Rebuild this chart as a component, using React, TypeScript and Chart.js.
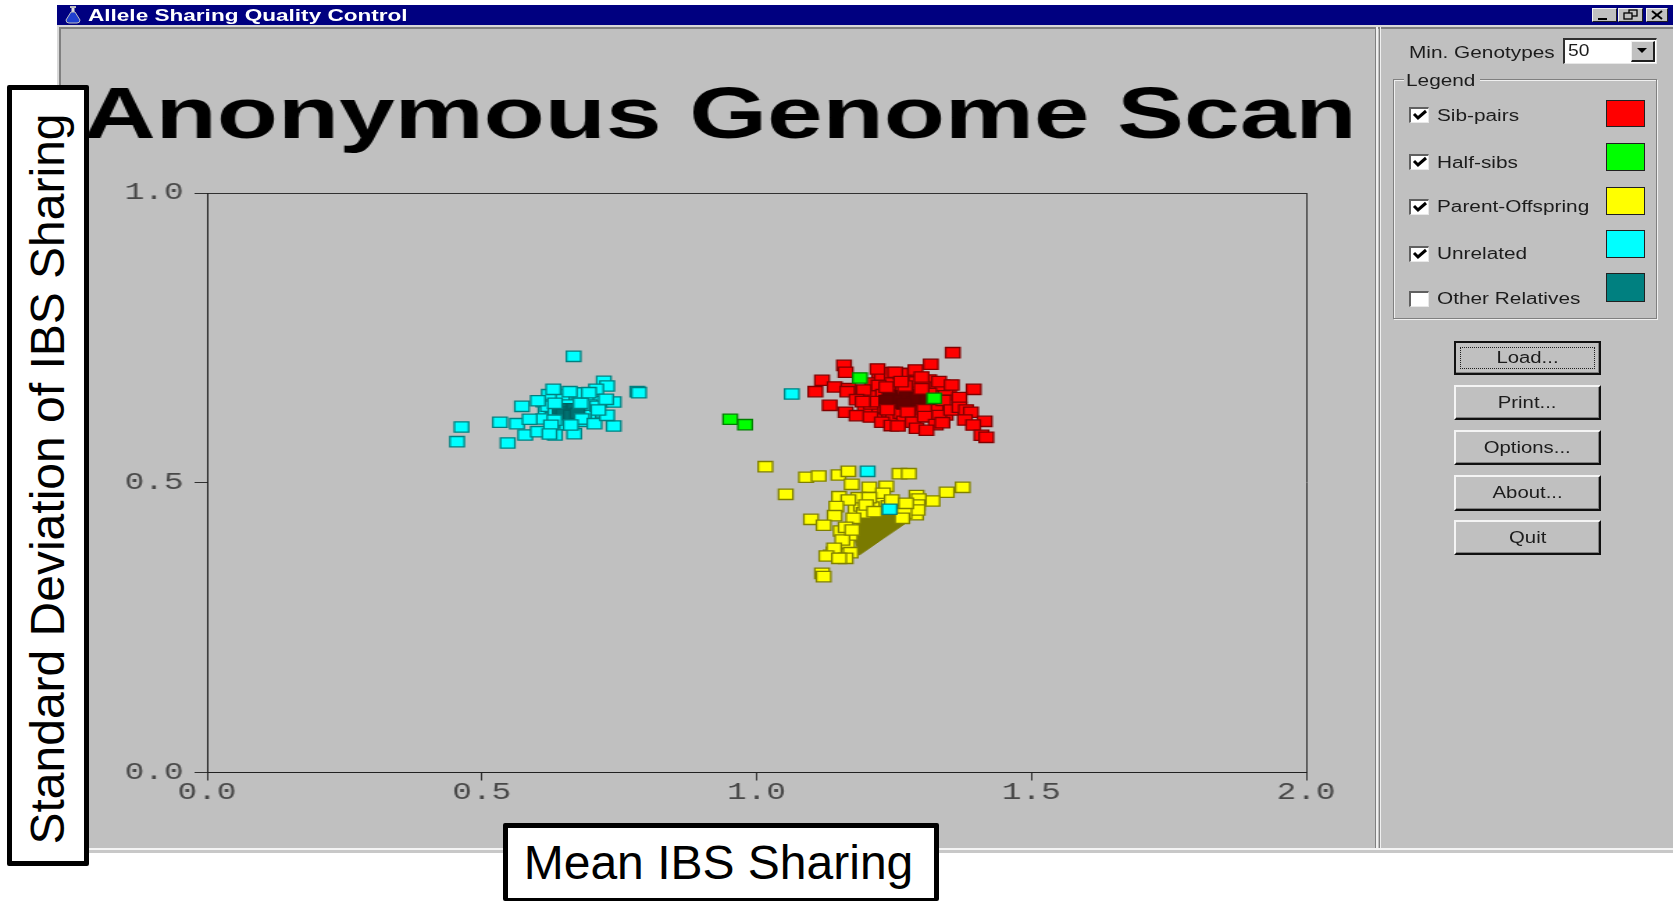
import React, { useEffect, useRef } from "react";
import { Chart, registerables } from "chart.js";

Chart.register(...registerables);

const chartTitle = "Anonymous Genome Scan";
const windowTitle = "Allele Sharing Quality Control";
const xAxisTitle = "Mean IBS Sharing";
const yAxisTitle = "Standard Deviation of IBS Sharing";
const legendLabels = ["Sib-pairs", "Half-sibs", "Parent-Offspring", "Unrelated", "Other Relatives"];
const legendChecked = [true, true, true, true, false];
const legendColors = ["#ff0000", "#00ff00", "#ffff00", "#00ffff", "#008080"];
const buttonLabels = ["Load...", "Print...", "Options...", "About...", "Quit"];

type P = [number, number];

const sibPairs: P[] = [
  [1.236,.665],[1.300,.662],[1.238,.626],[1.305,.626],[1.270,.667],[1.275,.622],
  [1.357,.7245],[1.317,.7044],[1.159,.7026],[1.162,.6906],[1.220,.6963],[1.252,.6906],[1.289,.6946],[1.300,.6825],
  [1.119,.6768],[1.107,.6572],[1.142,.6653],[1.167,.6624],[1.165,.6572],[1.195,.6601],[1.263,.6745],[1.332,.6745],
  [1.355,.6687],[1.395,.6612],[1.369,.6469],[1.182,.6434],[1.193,.6400],[1.133,.6336],[1.162,.6216],[1.182,.6158],
  [1.207,.6135],[1.228,.6043],[1.245,.5986],[1.257,.5980],[1.284,.6043],[1.306,.6141],[1.326,.6003],[1.291,.5940],
  [1.309,.5905],[1.338,.6037],[1.354,.6256],[1.369,.6302],[1.381,.6256],[1.390,.6216],[1.379,.6083],[1.415,.6060],
  [1.394,.5997],[1.409,.5819],[1.418,.5784],
];
const sibPairsCore: P[] = [
  [1.242,.650],[1.258,.638],[1.272,.652],[1.286,.640],[1.300,.650],[1.250,.642],[1.292,.646],[1.268,.636],
  [1.310,.644],[1.236,.642],
];
const sibPairsMiddle: P[] = [
  [1.223,.6831],[1.278,.6888],[1.314,.6773],[1.232,.6170],[1.281,.6227],[1.344,.6170],[1.350,.6515],
  [1.205,.648],[1.214,.662],[1.226,.638],[1.236,.672],[1.241,.622],[1.252,.664],[1.258,.628],[1.268,.676],
  [1.272,.612],[1.283,.668],[1.293,.634],[1.298,.656],[1.305,.622],[1.318,.664],[1.322,.636],[1.330,.650],
  [1.336,.628],[1.344,.660],[1.218,.628],[1.197,.627],[1.210,.672],[1.228,.684],[1.246,.678],[1.262,.688],[1.276,.660],
  [1.200,.655],[1.208,.636],[1.216,.650],[1.222,.668],[1.230,.652],[1.234,.630],[1.244,.660],[1.248,.616],[1.254,.652],
  [1.262,.620],[1.266,.662],[1.278,.624],[1.286,.612],[1.290,.674],[1.302,.666],[1.306,.634],[1.312,.614],[1.326,.626],
  [1.332,.616],[1.338,.668],[1.340,.642],[1.220,.640],[1.268,.606],[1.246,.690],[1.296,.616],[1.314,.654],
];
const halfSibs: P[] = [[1.188,.6808],[1.323,.6457],[.952,.6095],[.979,.6002]];
const unrelated: P[] = [
  [.633,.637],[.680,.637],[.632,.608],[.682,.610],
  [1.064,.6532],[1.202,.5197],[1.242,.4542],
  [.667,.7181],[.722,.6750],[.728,.6669],[.783,.6572],[.786,.6555],[.630,.6612],[.660,.6572],[.708,.6612],[.695,.6555],
  [.602,.6416],[.573,.6319],[.740,.6393],[.726,.6439],[.533,.6043],[.564,.6020],[.463,.5962],[.455,.5709],[.547,.5686],
  [.587,.6095],[.579,.5824],[.602,.5882],[.626,.5991],[.633,.5824],[.623,.5841],[.668,.5847],[.662,.5997],[.705,.6020],
  [.740,.5979],[.728,.6163],[.712,.6255],
];
const unrelatedCore: P[] = [[.642,.6275],[.655,.622],[.668,.6275],[.648,.618],[.662,.616],[.674,.620]];
const unrelatedMiddle: P[] = [
  [.612,.640],[.628,.648],[.640,.652],[.652,.640],[.664,.648],[.676,.642],[.688,.650],[.700,.640],[.690,.628],[.704,.622],
  [.616,.622],[.628,.612],[.612,.610],[.640,.605],[.655,.600],[.680,.606],[.694,.610],[.716,.640],[.634,.636],[.680,.655],
  [.620,.632],[.646,.644],[.658,.634],[.682,.632],[.696,.634],[.634,.620],[.686,.616],[.670,.610],[.710,.632],[.622,.652],
];
const parentOffspring: P[] = [
  [1.135,.375],[1.140,.380],[1.160,.385],[1.165,.395],[1.170,.410],[1.180,.455],[1.190,.460],[1.225,.465],[1.240,.460],
  [1.280,.463],[1.285,.455],[1.270,.455],[1.290,.445],[1.210,.458],[1.195,.448],[1.200,.470],
  [1.016,.5278],[1.090,.5094],[1.113,.5117],[1.149,.5134],[1.167,.5197],[1.260,.5157],[1.277,.5157],[1.053,.4800],
  [1.375,.4921],[1.346,.4835],[1.320,.4685],[1.173,.4973],[1.205,.4921],[1.236,.4938],[1.150,.4760],[1.230,.4818],
  [1.185,.4743],[1.205,.4743],[1.167,.4703],[1.145,.4588],[1.246,.4703],[1.291,.4780],[1.295,.4720],[1.293,.4616],[1.293,.4530],
  [1.142,.4432],[1.099,.4369],[1.122,.4266],[1.176,.4386],[1.153,.4168],[1.162,.4231],[1.156,.4013],[1.141,.3869],
  [1.171,.3794],[1.127,.3737],[1.162,.3696],[1.150,.3696],[1.119,.3437],[1.122,.3380],[1.199,.4616],[1.214,.4501],
  [1.269,.4473],[1.265,.4386],[1.272,.4645],[1.174,.4185],
];
const parentOffspringDense: P[] = [
  [1.187,.3754],[1.284,.4386],[1.270,.4520],[1.215,.4560],[1.187,.4440],[1.178,.4070],[1.187,.3754],
];
const otherRelatives: P[] = [];

const xTicksMax = 2;
const yTicksMax = 1;

const FULL_W = 1673;
const LOGICAL_W = 1204;
const STRETCH = FULL_W / LOGICAL_W;
const GREY = "#c0c0c0";

function pts(a: P[]) {
  return a.map(([x, y]) => ({ x, y }));
}
function series(label: string, data: P[], fill: string, border: string) {
  return {
    label,
    data: pts(data),
    backgroundColor: fill,
    borderColor: border,
    pointBackgroundColor: fill,
    pointBorderColor: border,
    pointBorderWidth: 1.3,
    pointStyle: "rect",
    pointRadius: 7.3,
    showLine: false,
  };
}

function ScatterChart() {
  const ref = useRef<HTMLCanvasElement>(null);
  useEffect(() => {
    const frame = (c: any, max: number) =>
      c.tick && c.tick.value === max ? "#303030" : "rgba(0,0,0,0)";
    const tickFont = { family: "'Liberation Mono'", size: 23.5 };
    const chart = new Chart(ref.current!, {
      type: "scatter",
      data: {
        datasets: [
          series("Half-sibs", halfSibs, "#00ff00", "#008000"),
          series("Unrelated", unrelated, "#00ffff", "#008080"),
          series("Unrelated (dense)", unrelatedCore, "#007070", "#006060"),
          series("Unrelated (middle)", unrelatedMiddle, "#00ffff", "#008080"),
          series("Sib-pairs", sibPairs, "#ff0000", "#800000"),
          series("Sib-pairs (dense)", sibPairsCore, "#640000", "#600000"),
          series("Sib-pairs (middle)", sibPairsMiddle, "#ff0000", "#800000"),
          series("Parent-Offspring", parentOffspring, "#ffff00", "#808000"),
          {
            label: "Parent-Offspring (dense)",
            data: pts(parentOffspringDense),
            showLine: true,
            fill: "shape",
            backgroundColor: "#7a7a00",
            borderColor: "#7a7a00",
            borderWidth: 1,
            pointRadius: 0,
            tension: 0,
          },
          series("Other Relatives", otherRelatives, "#008080", "#004040"),
        ] as any,
      },
      options: {
        animation: false,
        responsive: false,
        layout: { padding: { left: 60, right: 0, top: 0, bottom: 88.5 } },
        plugins: {
          legend: { display: false },
          tooltip: { enabled: false },
          title: {
            display: true,
            text: chartTitle,
            align: "start",
            color: "#000000",
            font: { family: "'Liberation Sans'", size: 72, weight: "bold", lineHeight: 1.2 },
            padding: { top: 74.8, bottom: 31.8 },
          },
        },
        scales: {
          x: {
            type: "linear",
            min: 0,
            max: xTicksMax,
            afterFit: (s: any) => { s.height = 40; },
            border: { color: "#202020", width: 1 },
            grid: {
              color: (c: any) => frame(c, xTicksMax),
              tickColor: "#303030",
              tickLength: 8,
              drawTicks: true,
            },
            ticks: {
              stepSize: 0.5,
              color: "#484848",
              font: tickFont,
              padding: -2,
              maxRotation: 0,
              callback: (v: any) => Number(v).toFixed(1),
            },
          },
          y: {
            type: "linear",
            min: 0,
            max: yTicksMax,
            afterFit: (s: any) => { s.width = 89; },
            border: { color: "#202020", width: 1 },
            grid: {
              color: (c: any) => frame(c, yTicksMax),
              tickColor: "#303030",
              tickLength: 9,
              drawTicks: true,
            },
            ticks: {
              stepSize: 0.5,
              color: "#484848",
              font: tickFont,
              padding: 8,
              callback: (v: any) => Number(v).toFixed(1),
            },
          },
          controlsGutter: {
            type: "linear",
            position: "right",
            min: 0,
            max: yTicksMax,
            afterFit: (s: any) => { s.width = 264; },
            border: { display: false },
            grid: { display: false, drawTicks: false },
            ticks: { display: false },
          },
        },
      } as any,
    });
    return () => chart.destroy();
  }, []);
  return (
    <canvas
      ref={ref}
      width={LOGICAL_W}
      height={901}
      style={{
        position: "absolute",
        left: 0,
        top: 0,
        transform: `scaleX(${STRETCH})`,
        transformOrigin: "0 0",
      }}
    />
  );
}

const box = (x: number, y: number, x2: number, y2: number): React.CSSProperties => ({
  position: "absolute",
  left: x,
  top: y,
  width: x2 - x,
  height: y2 - y,
  boxSizing: "border-box",
});

function Label(props: { x: number; y: number; text: string; size?: number; sx?: number; bold?: boolean; color?: string; bg?: string }) {
  const { x, y, text, size = 16, sx = 1.3, bold = false, color = "#1c1c1c" } = props;
  return (
    <span
      style={{
        position: "absolute",
        left: x,
        top: y,
        fontFamily: "'Liberation Sans'",
        fontSize: size,
        fontWeight: bold ? "bold" : "normal",
        color,
        lineHeight: 1,
        whiteSpace: "nowrap",
        transform: `translateY(-50%) scaleX(${sx})`,
        transformOrigin: "0 50%",
        filter: "blur(0.35px)",
      }}
    >
      {text}
    </span>
  );
}

function CheckBox({ y, checked }: { y: number; checked: boolean }) {
  return (
    <div
      style={{
        ...box(1409, y, 1429, y + 16),
        background: "#fff",
        borderTop: "2px solid #606060",
        borderLeft: "2px solid #606060",
        borderRight: "1px solid #e8e8e8",
        borderBottom: "1px solid #e8e8e8",
      }}
    >
      {checked && (
        <svg width={17} height={13} style={{ position: "absolute", left: 0, top: 0 }}>
          <polyline points="3,5 7,9 15,2" fill="none" stroke="#000" strokeWidth={3} />
        </svg>
      )}
    </div>
  );
}

const legendCheckY = [107, 154, 199, 246, 291];
const legendTextY = [116, 163, 207, 254, 299];
const swatchY: P[] = [[100, 127], [143, 171], [187, 215], [230, 258], [273, 302]];
const buttonY: P[] = [[341, 375], [385, 420], [430, 465], [475, 511], [520, 555]];

function GuiButton({ y, y2, text, focused }: { y: number; y2: number; text: string; focused: boolean }) {
  return (
    <div
      style={{
        ...box(1454, y, 1601, y2),
        background: GREY,
        borderTop: focused ? "2px solid #101010" : "2px solid #f4f4f4",
        borderLeft: focused ? "2px solid #101010" : "2px solid #f4f4f4",
        borderRight: "2px solid #101010",
        borderBottom: "2px solid #101010",
        boxShadow: "inset -1px -1px 0 #808080",
        display: "flex",
        alignItems: "center",
        justifyContent: "center",
      }}
    >
      {focused && (
        <div style={{ position: "absolute", left: 4, top: 4, right: 4, bottom: 4, border: "1px dotted #202020" }} />
      )}
      <span
        style={{
          fontFamily: "'Liberation Sans'",
          fontSize: 16,
          color: "#1c1c1c",
          transform: "scaleX(1.27)",
          filter: "blur(0.35px)",
        }}
      >
        {text}
      </span>
    </div>
  );
}

function WinButton({ x, x2, kind }: { x: number; x2: number; kind: string }) {
  return (
    <div
      style={{
        ...box(x, 8, x2, 22),
        background: GREY,
        borderTop: "1px solid #f4f4f4",
        borderLeft: "1px solid #f4f4f4",
        borderRight: "1px solid #202020",
        borderBottom: "1px solid #202020",
      }}
    >
      <svg width={x2 - x - 2} height={12} style={{ position: "absolute", left: 0, top: 0 }}>
        {kind === "min" && <rect x={5} y={9} width={9} height={2} fill="#000" />}
        {kind === "max" && (
          <g fill="none" stroke="#000" strokeWidth={1.3}>
            <rect x={10} y={1} width={8} height={6} />
            <rect x={5} y={4} width={8} height={6} fill={GREY} />
          </g>
        )}
        {kind === "close" && (
          <g stroke="#000" strokeWidth={2}>
            <line x1={5} y1={2} x2={15} y2={10} />
            <line x1={15} y1={2} x2={5} y2={10} />
          </g>
        )}
      </svg>
    </div>
  );
}

export default function App() {
  document.body.style.margin = "0";
  document.body.style.overflow = "hidden";
  return (
    <div style={{ position: "relative", width: FULL_W, height: 901, background: "#fff", overflow: "hidden" }}>
      {/* window */}
      <div style={{ ...box(57, 25, FULL_W, 853), background: "#d8d8d8" }} />
      <div
        style={{
          ...box(59, 27, FULL_W, 848),
          background: GREY,
          borderTop: "2px solid #808080",
          borderLeft: "2px solid #808080",
        }}
      />
      <div style={{ ...box(57, 848, FULL_W, 850), background: "#f4f4f4" }} />
      <div style={{ ...box(57, 850, FULL_W, 853), background: "#c8c8c8" }} />
      {/* title bar */}
      <div style={{ ...box(57, 5, FULL_W, 25), background: "#000080" }} />
      <svg width={18} height={18} style={{ position: "absolute", left: 64, top: 6 }}>
        <rect x={6} y={0} width={6} height={2} fill="#c0c0c0" />
        <rect x={7.5} y={2} width={3} height={5} fill="#e0e0e0" />
        <path d="M7 6 L11 6 L16 14 Q16 17 13 17 L5 17 Q2 17 2 14 Z" fill="#2040d0" stroke="#c0c0c0" strokeWidth={1} />
      </svg>
      <Label x={88} y={16} text={windowTitle} size={16} sx={1.41} bold color="#ffffff" />
      <WinButton x={1592} x2={1617} kind="min" />
      <WinButton x={1618} x2={1643} kind="max" />
      <WinButton x={1646} x2={1668} kind="close" />

      {/* separator between plot and controls */}
      <div style={{ ...box(1375, 27, 1376, 848), background: "#808080" }} />
      <div style={{ ...box(1376, 27, 1378, 848), background: "#f0f0f0" }} />
      <div style={{ ...box(1379, 27, 1380, 848), background: "#808080" }} />
      <div style={{ ...box(1380, 27, 1381, 848), background: "#f0f0f0" }} />

      {/* combo */}
      <Label x={1409} y={53} text="Min. Genotypes" />
      <div
        style={{
          ...box(1563, 38, 1657, 64),
          background: "#fff",
          borderTop: "2px solid #303030",
          borderLeft: "2px solid #303030",
          borderRight: "1px solid #e8e8e8",
          borderBottom: "1px solid #e8e8e8",
        }}
      />
      <Label x={1568} y={51} text="50" size={16} sx={1.2} />
      <div
        style={{
          ...box(1631, 41, 1655, 62),
          background: GREY,
          borderTop: "1px solid #f0f0f0",
          borderLeft: "1px solid #f0f0f0",
          borderRight: "2px solid #202020",
          borderBottom: "2px solid #202020",
        }}
      >
        <svg width={20} height={16}>
          <polygon points="5,6 15,6 10,11" fill="#000" />
        </svg>
      </div>

      {/* legend group */}
      <div
        style={{
          ...box(1393, 79, 1657, 319),
          border: "1px solid #808080",
          boxShadow: "1px 1px 0 #f0f0f0, inset 1px 1px 0 #f0f0f0",
        }}
      />
      <div style={{ ...box(1404, 74, 1480, 86), background: GREY }} />
      <Label x={1406} y={81} text="Legend" />
      {legendLabels.map((t, i) => (
        <React.Fragment key={t}>
          <CheckBox y={legendCheckY[i]} checked={legendChecked[i]} />
          <Label x={1437} y={legendTextY[i]} text={t} />
          <div
            style={{
              ...box(1606, swatchY[i][0], 1645, swatchY[i][1]),
              background: legendColors[i],
              border: "1px solid #202020",
            }}
          />
        </React.Fragment>
      ))}

      {buttonLabels.map((t, i) => (
        <GuiButton key={t} y={buttonY[i][0]} y2={buttonY[i][1]} text={t} focused={i === 0} />
      ))}

      <ScatterChart />

      {/* annotation boxes pasted over the window */}
      <div
        style={{
          ...box(7, 85, 89, 866),
          background: "#fff",
          border: "5px solid #000",
          borderRadius: 2,
        }}
      />
      <span
        style={{
          position: "absolute",
          left: 48,
          top: 479,
          fontFamily: "'Liberation Sans'",
          fontSize: 48,
          color: "#000",
          whiteSpace: "nowrap",
          lineHeight: 1,
          transform: "translate(-50%, -50%) rotate(-90deg)",
        }}
      >
        {yAxisTitle}
      </span>
      <div
        style={{
          ...box(503, 823, 939, 901),
          background: "#fff",
          border: "5px solid #000",
          borderBottomWidth: 3,
          borderRadius: 2,
        }}
      />
      <span
        style={{
          position: "absolute",
          left: 718.5,
          top: 863,
          fontFamily: "'Liberation Sans'",
          fontSize: 48,
          color: "#000",
          whiteSpace: "nowrap",
          lineHeight: 1,
          transform: "translate(-50%, -50%)",
        }}
      >
        {xAxisTitle}
      </span>
    </div>
  );
}
